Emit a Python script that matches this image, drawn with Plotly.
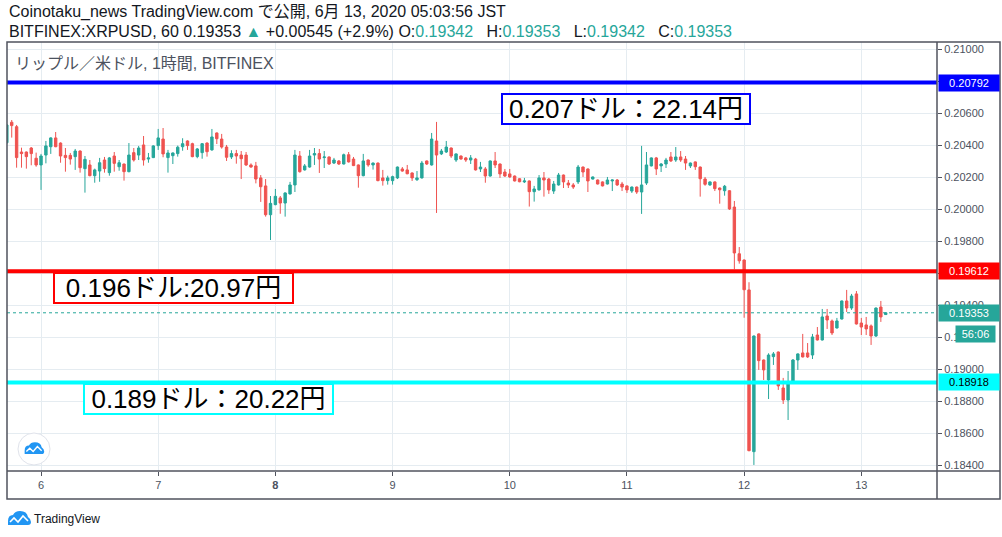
import pandas as pd
import plotly.graph_objects as go

# hourly XRP/USD candles (Bitfinex, JST), first bar 2020-06-05 17:00
start_time = "2020-06-05 17:00"
opens = [
    0.20416, 0.20544, 0.20516, 0.20358, 0.20358, 0.20383, 0.20319, 0.20277, 0.20339, 0.20391,
    0.20446, 0.20414, 0.20337, 0.20337, 0.20329, 0.20364, 0.20254, 0.20277, 0.20210, 0.20239,
    0.20308, 0.20229, 0.20333, 0.20266, 0.20283, 0.20235, 0.20354, 0.20339, 0.20402, 0.20314,
    0.20323, 0.20398, 0.20439, 0.20323, 0.20335, 0.20348, 0.20391, 0.20427, 0.20410, 0.20329,
    0.20354, 0.20414, 0.20371, 0.20477, 0.20439, 0.20389, 0.20327, 0.20348, 0.20339, 0.20339,
    0.20277, 0.20271, 0.20196, 0.20146, 0.19966, 0.20029, 0.20071, 0.20039, 0.20096, 0.20152,
    0.20333, 0.20246, 0.20264, 0.20339, 0.20348, 0.20323, 0.20327, 0.20289, 0.20302, 0.20283,
    0.20341, 0.20314, 0.20277, 0.20210, 0.20308, 0.20277, 0.20289, 0.20196, 0.20179, 0.20179,
    0.20196, 0.20252, 0.20246, 0.20227, 0.20185, 0.20196, 0.20302, 0.20277, 0.20427, 0.20346,
    0.20358, 0.20383, 0.20308, 0.20333, 0.20321, 0.20308, 0.20314, 0.20252, 0.20252, 0.20208,
    0.20302, 0.20283, 0.20233, 0.20221, 0.20208, 0.20191, 0.20171, 0.20177, 0.20110, 0.20121,
    0.20196, 0.20189, 0.20114, 0.20152, 0.20214, 0.20164, 0.20152, 0.20171, 0.20264, 0.20252,
    0.20189, 0.20183, 0.20171, 0.20158, 0.20177, 0.20183, 0.20158, 0.20146, 0.20114, 0.20139,
    0.20108, 0.20164, 0.20271, 0.20321, 0.20271, 0.20283, 0.20327, 0.20308, 0.20327, 0.20314,
    0.20271, 0.20296, 0.20264, 0.20189, 0.20152, 0.20171, 0.20133, 0.20116, 0.20116, 0.20014,
    0.19722, 0.19683, 0.19496, 0.18485, 0.19221, 0.19058, 0.18933, 0.19079, 0.19108, 0.18883,
    0.18808, 0.18914, 0.19058, 0.19102, 0.19102, 0.19089, 0.19214, 0.19183, 0.19333, 0.19302,
    0.19258, 0.19314, 0.19427, 0.19383, 0.19471, 0.19289, 0.19277, 0.19271, 0.19208, 0.19389,
    0.19342,
]
highs = [
    0.20533, 0.20558, 0.20527, 0.20385, 0.20361, 0.20389, 0.20354, 0.20346, 0.20427, 0.20450,
    0.20483, 0.20418, 0.20383, 0.20352, 0.20377, 0.20368, 0.20333, 0.20308, 0.20254, 0.20321,
    0.20327, 0.20327, 0.20358, 0.20308, 0.20285, 0.20414, 0.20383, 0.20396, 0.20458, 0.20352,
    0.20400, 0.20502, 0.20508, 0.20371, 0.20355, 0.20398, 0.20444, 0.20431, 0.20416, 0.20383,
    0.20414, 0.20418, 0.20502, 0.20480, 0.20471, 0.20402, 0.20369, 0.20371, 0.20364, 0.20358,
    0.20287, 0.20296, 0.20214, 0.20189, 0.20083, 0.20127, 0.20083, 0.20106, 0.20171, 0.20371,
    0.20364, 0.20283, 0.20371, 0.20383, 0.20377, 0.20364, 0.20330, 0.20321, 0.20308, 0.20348,
    0.20358, 0.20327, 0.20280, 0.20346, 0.20311, 0.20292, 0.20292, 0.20246, 0.20210, 0.20210,
    0.20267, 0.20264, 0.20277, 0.20230, 0.20239, 0.20302, 0.20305, 0.20477, 0.20546, 0.20377,
    0.20427, 0.20386, 0.20349, 0.20336, 0.20327, 0.20339, 0.20321, 0.20296, 0.20264, 0.20305,
    0.20358, 0.20286, 0.20252, 0.20252, 0.20211, 0.20194, 0.20196, 0.20180, 0.20146, 0.20214,
    0.20233, 0.20196, 0.20177, 0.20227, 0.20217, 0.20183, 0.20164, 0.20277, 0.20267, 0.20255,
    0.20205, 0.20186, 0.20174, 0.20202, 0.20186, 0.20189, 0.20171, 0.20149, 0.20142, 0.20142,
    0.20396, 0.20358, 0.20324, 0.20327, 0.20289, 0.20321, 0.20358, 0.20389, 0.20364, 0.20333,
    0.20292, 0.20299, 0.20267, 0.20202, 0.20174, 0.20174, 0.20136, 0.20152, 0.20119, 0.20052,
    0.19764, 0.19686, 0.19544, 0.19211, 0.19224, 0.19061, 0.19100, 0.19108, 0.19111, 0.18946,
    0.18989, 0.19064, 0.19099, 0.19221, 0.19164, 0.19221, 0.19264, 0.19377, 0.19377, 0.19311,
    0.19321, 0.19430, 0.19496, 0.19471, 0.19489, 0.19321, 0.19327, 0.19280, 0.19386, 0.19427,
    0.19353,
]
lows = [
    0.20410, 0.20448, 0.20260, 0.20260, 0.20254, 0.20275, 0.20266, 0.20121, 0.20287, 0.20346,
    0.20388, 0.20291, 0.20235, 0.20279, 0.20246, 0.20229, 0.20104, 0.20206, 0.20166, 0.20172,
    0.20229, 0.20210, 0.20235, 0.20241, 0.20179, 0.20231, 0.20298, 0.20308, 0.20273, 0.20291,
    0.20320, 0.20371, 0.20325, 0.20229, 0.20283, 0.20329, 0.20366, 0.20371, 0.20325, 0.20319,
    0.20316, 0.20329, 0.20366, 0.20408, 0.20379, 0.20302, 0.20314, 0.20285, 0.20189, 0.20271,
    0.20260, 0.20162, 0.20046, 0.19954, 0.19808, 0.20025, 0.19972, 0.19954, 0.20092, 0.20108,
    0.20229, 0.20242, 0.20260, 0.20277, 0.20227, 0.20258, 0.20277, 0.20283, 0.20277, 0.20280,
    0.20292, 0.20270, 0.20135, 0.20206, 0.20266, 0.20248, 0.20175, 0.20148, 0.20154, 0.20154,
    0.20189, 0.20235, 0.20219, 0.20177, 0.20177, 0.20192, 0.20277, 0.20273, 0.19977, 0.20339,
    0.20352, 0.20321, 0.20296, 0.20311, 0.20296, 0.20283, 0.20242, 0.20233, 0.20166, 0.20204,
    0.20258, 0.20196, 0.20202, 0.20196, 0.20174, 0.20169, 0.20164, 0.20017, 0.20048, 0.20117,
    0.20079, 0.20096, 0.20096, 0.20148, 0.20133, 0.20133, 0.20127, 0.20158, 0.20202, 0.20108,
    0.20186, 0.20155, 0.20143, 0.20155, 0.20114, 0.20146, 0.20114, 0.20102, 0.20102, 0.20096,
    0.19971, 0.20152, 0.20268, 0.20214, 0.20233, 0.20258, 0.20296, 0.20296, 0.20296, 0.20246,
    0.20258, 0.20246, 0.20079, 0.20147, 0.20147, 0.20114, 0.20035, 0.20085, 0.19996, 0.19625,
    0.19660, 0.19322, 0.18488, 0.18402, 0.18996, 0.18933, 0.18814, 0.19027, 0.18871, 0.18783,
    0.18683, 0.18908, 0.18996, 0.19074, 0.19071, 0.19064, 0.19180, 0.19180, 0.19252, 0.19214,
    0.19255, 0.19311, 0.19358, 0.19371, 0.19280, 0.19214, 0.19214, 0.19152, 0.19202, 0.19296,
    0.19342,
]
closes = [
    0.20527, 0.20523, 0.20323, 0.20348, 0.20329, 0.20348, 0.20277, 0.20333, 0.20396, 0.20446,
    0.20391, 0.20333, 0.20323, 0.20314, 0.20364, 0.20260, 0.20312, 0.20210, 0.20246, 0.20291,
    0.20254, 0.20321, 0.20287, 0.20291, 0.20235, 0.20339, 0.20308, 0.20383, 0.20308, 0.20321,
    0.20396, 0.20446, 0.20346, 0.20352, 0.20352, 0.20388, 0.20410, 0.20398, 0.20329, 0.20377,
    0.20410, 0.20360, 0.20452, 0.20441, 0.20389, 0.20325, 0.20348, 0.20333, 0.20316, 0.20277,
    0.20264, 0.20189, 0.20141, 0.19966, 0.20037, 0.20081, 0.20039, 0.20102, 0.20152, 0.20339,
    0.20235, 0.20271, 0.20333, 0.20348, 0.20314, 0.20327, 0.20283, 0.20308, 0.20283, 0.20341,
    0.20296, 0.20273, 0.20210, 0.20302, 0.20277, 0.20289, 0.20179, 0.20179, 0.20196, 0.20204,
    0.20264, 0.20239, 0.20222, 0.20196, 0.20196, 0.20289, 0.20283, 0.20439, 0.20339, 0.20364,
    0.20389, 0.20333, 0.20346, 0.20314, 0.20308, 0.20321, 0.20246, 0.20264, 0.20208, 0.20302,
    0.20277, 0.20221, 0.20208, 0.20202, 0.20177, 0.20172, 0.20177, 0.20110, 0.20127, 0.20196,
    0.20183, 0.20121, 0.20158, 0.20214, 0.20171, 0.20152, 0.20139, 0.20264, 0.20233, 0.20177,
    0.20202, 0.20158, 0.20146, 0.20183, 0.20183, 0.20152, 0.20139, 0.20121, 0.20139, 0.20108,
    0.20152, 0.20277, 0.20321, 0.20252, 0.20283, 0.20308, 0.20302, 0.20327, 0.20308, 0.20289,
    0.20289, 0.20266, 0.20191, 0.20156, 0.20171, 0.20129, 0.20122, 0.20144, 0.20002, 0.19727,
    0.19678, 0.19497, 0.18491, 0.19208, 0.19054, 0.18996, 0.19089, 0.19096, 0.18896, 0.18808,
    0.18908, 0.19058, 0.19096, 0.19077, 0.19077, 0.19202, 0.19183, 0.19327, 0.19308, 0.19227,
    0.19302, 0.19427, 0.19383, 0.19458, 0.19283, 0.19264, 0.19252, 0.19208, 0.19383, 0.19327,
    0.19353,
]

# drawn horizontal levels with their notes
level_prices = [0.20792, 0.19612, 0.18918]
level_colors = ["#0000ff", "#ff0000", "#00ffff"]
level_text_colors = ["white", "white", "black"]
level_notes = ["0.207ドル：22.14円", "0.196ドル:20.97円", "0.189ドル：20.22円"]
change_text = "+0.00545 (+2.9%)"
countdown = "56:06"

day_ticks = ["2020-06-06", "2020-06-07", "2020-06-08", "2020-06-09",
             "2020-06-10", "2020-06-11", "2020-06-12", "2020-06-13"]
day_labels = ["6", "7", "<b>8</b>", "9", "10", "11", "12", "13"]
price_ticks = [0.184, 0.186, 0.188, 0.190, 0.192, 0.194, 0.196,
               0.198, 0.200, 0.202, 0.204, 0.206, 0.208, 0.210]

UP = "#26a69a"
DOWN = "#ef5350"
FRAME = "#50535e"
GRID = "#e5ecf1"
TXT = "#4c525e"
FONT = "Liberation Sans, Arial, Noto Sans CJK JP, sans-serif"

W, H = 1002, 537
ML, MR, MT, MB = 7, 65, 42, 66
PW, PH = W - ML - MR, H - MT - MB


def px(x):
    # screen pixel -> paper x
    return (x - ML) / PW


def py(y):
    # screen pixel -> paper y
    return (H - MB - y) / PH


def tv_logo(cx, cy, s):
    # simple cloud with zigzag, in pixel offsets -> paper coords
    def p(dx, dy):
        return f"{px(cx + s * dx):.5f},{py(cy + s * dy):.5f}"
    cloud = (f"M{p(-11, 6)} L{p(-11, 2)} Q{p(-11, -4)} {p(-6, -4)} "
             f"Q{p(-4, -8)} {p(1, -8)} Q{p(8, -8)} {p(9, -2)} "
             f"Q{p(12, 0)} {p(12, 3)} Q{p(12, 6)} {p(9, 6)} Z")
    zig = f"M{p(-9, 3)} L{p(-5, -1)} L{p(-1, 3)} L{p(4, -3)} L{p(9, 2)}"
    return [
        dict(type="path", xref="paper", yref="paper", path=cloud,
             fillcolor="#2196f3", line=dict(width=0)),
        dict(type="path", xref="paper", yref="paper", path=zig,
             line=dict(color="white", width=1.6 * s)),
    ]


times = pd.date_range(start_time, periods=len(opens), freq="h")

fig = go.Figure(go.Candlestick(
    x=times, open=opens, high=highs, low=lows, close=closes,
    increasing=dict(line=dict(color=UP, width=1), fillcolor=UP),
    decreasing=dict(line=dict(color=DOWN, width=1), fillcolor=DOWN),
    whiskerwidth=0, hoverinfo="skip",
))

shapes = []
annotations = []

last_price = closes[-1]
shapes.append(dict(type="line", xref="paper", x0=0, x1=1, yref="y",
                   y0=last_price, y1=last_price,
                   line=dict(color=UP, width=1, dash="dot")))

for price, col, tcol in zip(level_prices, level_colors, level_text_colors):
    shapes.append(dict(type="line", xref="paper", x0=0, x1=1, yref="y",
                       y0=price, y1=price, line=dict(color=col, width=4)))
    annotations.append(dict(xref="paper", x=1, xanchor="left", xshift=1,
                            yref="y", y=price, text=f"{price:.5f}",
                            showarrow=False, bgcolor=col, width=58, height=14,
                            borderpad=1, font=dict(color=tcol, size=11, family=FONT)))

annotations.append(dict(xref="paper", x=1, xanchor="left", xshift=1,
                        yref="y", y=last_price, text=f"{last_price:.5f}",
                        showarrow=False, bgcolor=UP, width=58, height=14,
                        borderpad=1, font=dict(color="white", size=11, family=FONT)))
annotations.append(dict(xref="paper", x=px(975.5), xanchor="center",
                        yref="y", y=last_price, yshift=-21, text=countdown,
                        showarrow=False, bgcolor=UP, width=37, height=14,
                        borderpad=1, font=dict(color="white", size=11, family=FONT)))

# note boxes next to the levels (screen centre x, centre y, inner width)
note_pos = [(625.5, 108.5, 244), (173, 288, 235), (208, 398.5, 245)]
for (cx, cy, wd), col, note in zip(note_pos, level_colors, level_notes):
    annotations.append(dict(xref="paper", yref="paper", x=px(cx), y=py(cy),
                            xanchor="center", yanchor="middle",
                            text=note, showarrow=False, bgcolor="white",
                            bordercolor=col, borderwidth=2, borderpad=1,
                            width=wd, height=26,
                            font=dict(color="black", size=26, family=FONT)))

teal = lambda s: f"<span style='color:{UP}'>{s}</span>"
gap = "&nbsp;&nbsp;"
header1 = "Coinotaku_news TradingView.com で公開, 6月 13, 2020 05:03:56 JST"
header2 = (f"BITFINEX:XRPUSD, 60 {last_price:.5f}&nbsp;{teal('▲')}&nbsp;{change_text} "
           f"O:{teal(f'{opens[-1]:.5f}')}{gap} H:{teal(f'{highs[-1]:.5f}')}{gap} "
           f"L:{teal(f'{lows[-1]:.5f}')}{gap} C:{teal(f'{closes[-1]:.5f}')}")
annotations += [
    dict(xref="paper", yref="paper", x=px(7), y=py(12), xanchor="left",
         yanchor="middle", text=header1, showarrow=False,
         font=dict(color="#131722", size=16, family=FONT)),
    dict(xref="paper", yref="paper", x=px(7), y=py(31), xanchor="left",
         yanchor="middle", text=header2, showarrow=False,
         font=dict(color="#131722", size=16, family=FONT)),
    dict(xref="paper", yref="paper", x=px(13), y=py(63), xanchor="left",
         yanchor="middle", text="リップル／米ドル, 1時間, BITFINEX", showarrow=False,
         font=dict(color=TXT, size=16, family=FONT)),
    dict(xref="paper", yref="paper", x=px(32), y=py(519), xanchor="left",
         yanchor="middle", text="TradingView", showarrow=False,
         font=dict(color="#131722", size=12, family=FONT)),
]

# outer frame, time-axis box and price-axis separator
shapes += [
    dict(type="rect", xref="paper", yref="paper", x0=0, x1=px(1000),
         y0=py(499), y1=1, line=dict(color=FRAME, width=1.5)),
    dict(type="line", xref="paper", yref="paper", x0=0, x1=px(1000),
         y0=0, y1=0, line=dict(color=FRAME, width=1.5)),
    dict(type="line", xref="paper", yref="paper", x0=1, x1=1,
         y0=py(499), y1=1, line=dict(color=FRAME, width=1.5)),
    dict(type="circle", xref="paper", yref="paper", x0=px(18), x1=px(50),
         y0=py(465), y1=py(433), fillcolor="white", line=dict(color="#e0e3eb", width=1)),
]
shapes += tv_logo(34, 449, 0.85)
shapes += tv_logo(19, 519, 1.0)

fig.update_layout(
    width=W, height=H,
    margin=dict(l=ML, r=MR, t=MT, b=MB),
    paper_bgcolor="white", plot_bgcolor="white",
    showlegend=False,
    shapes=shapes, annotations=annotations,
    font=dict(family=FONT, color=TXT, size=11),
)
fig.update_xaxes(
    type="date", range=["2020-06-05 17:02", "2020-06-13 15:30"],
    rangeslider=dict(visible=False),
    tickvals=day_ticks, ticktext=day_labels,
    showgrid=True, gridcolor=GRID, gridwidth=1,
    ticks="outside", ticklen=4, tickcolor=FRAME,
    tickfont=dict(size=11, color=TXT, family=FONT),
    showline=False, zeroline=False,
)
fig.update_yaxes(
    side="right", range=[0.183642, 0.210455],
    tickvals=price_ticks, ticktext=[f"{v:.5f}" for v in price_ticks],
    showgrid=True, gridcolor=GRID, gridwidth=1,
    ticks="outside", ticklen=4, tickcolor=FRAME,
    tickfont=dict(size=11, color=TXT, family=FONT),
    showline=False, zeroline=False,
)

# drop the default page margin so the figure sits at the window's corner
fig.write_html("out.html", config={"displayModeBar": False},
               post_script="document.body.style.margin='0';")
